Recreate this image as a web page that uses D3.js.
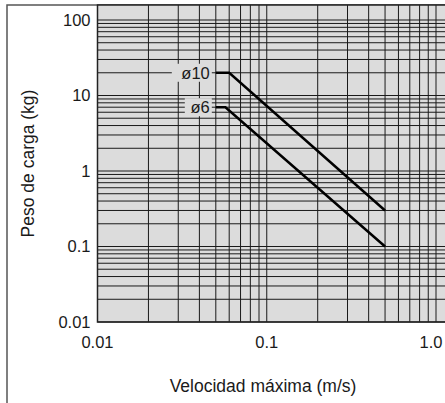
<!DOCTYPE html>
<html lang="es">
<head>
    <meta charset="UTF-8">
    <script src="https://d3js.org/d3.v7.min.js"></script>
    <title>Peso de carga vs velocidad</title>
    <style>
        body { margin: 0; background: #fff; }
        text { font-family: "Liberation Sans", Arial, sans-serif; fill: #1a1a1a; }
    </style>
</head>
<body>
    <div id="chart"></div>
    <script>
        // valores
        var xTicks = [0.01, 0.1, 1];
        var xTickLabels = ["0.01", "0.1", "1.0"];
        var yTicks = [0.01, 0.1, 1, 10, 100];
        var yTickLabels = ["0.01", "0.1", "1", "10", "100"];

        var seriesNames = ["ø10", "ø6"];
        var speed10 = [0.05, 0.06, 0.5];
        var load10 = [20, 20, 0.3];
        var speed6 = [0.05, 0.057, 0.5];
        var load6 = [7, 7, 0.1];

        var width = 445;
        var height = 403;
        var plotLeft = 97.5, plotRight = 436, plotTop = 5, plotBottom = 322;
        var bg = "#dcdcdc";

        var svg = d3.select('#chart')
                    .append('svg')
                    .attr('width', width)
                    .attr('height', height);

        var x = d3.scaleLog().domain([0.01, 1]).range([plotLeft, plotRight]);
        var y = d3.scaleLog().domain([0.01, 100]).range([plotBottom, 20]);

        // outer frame
        svg.append("path")
           .attr("d", `M7,${height} V5 H${width}`)
           .attr("fill", "none")
           .attr("stroke", "#555")
           .attr("stroke-width", 1.5);

        svg.append("rect")
           .attr("x", plotLeft)
           .attr("y", plotTop)
           .attr("width", width - plotLeft)
           .attr("height", plotBottom - plotTop)
           .attr("fill", bg);

        var grid = svg.append("g")
                      .attr("stroke", "#1a1a1a")
                      .attr("stroke-width", 1);

        grid.selectAll(".vx")
            .data(x.ticks())
            .enter()
            .append("line")
            .attr("x1", d => x(d)).attr("x2", d => x(d))
            .attr("y1", plotTop).attr("y2", plotBottom);

        grid.selectAll(".hy")
            .data(y.ticks())
            .enter()
            .append("line")
            .attr("x1", plotLeft).attr("x2", width)
            .attr("y1", d => y(d)).attr("y2", d => y(d));

        // plot border
        svg.append("path")
           .attr("d", `M${width},${plotTop} H${plotLeft} V${plotBottom} H${width}`)
           .attr("fill", "none")
           .attr("stroke", "#222")
           .attr("stroke-width", 1.5);

        // axes labels
        svg.append("g").selectAll("text")
           .data(yTicks)
           .enter()
           .append("text")
           .attr("x", plotLeft - 7)
           .attr("y", d => y(d))
           .attr("dy", "0.36em")
           .attr("text-anchor", "end")
           .attr("font-size", 16.5)
           .text((d, i) => yTickLabels[i]);

        svg.append("g").selectAll("text")
           .data(xTicks)
           .enter()
           .append("text")
           .attr("x", d => x(d) - (d === 1 ? 5 : 0))
           .attr("y", plotBottom + 26)
           .attr("text-anchor", "middle")
           .attr("font-size", 16.5)
           .text((d, i) => xTickLabels[i]);

        svg.append("text")
           .attr("x", 263)
           .attr("y", 392)
           .attr("text-anchor", "middle")
           .attr("font-size", 17.5)
           .text("Velocidad máxima (m/s)");

        svg.append("text")
           .attr("transform", `translate(33.5, ${(plotTop + plotBottom) / 2}) rotate(-90)`)
           .attr("text-anchor", "middle")
           .attr("font-size", 17.5)
           .text("Peso de carga (kg)");

        // curves
        var line = d3.line().x(d => x(d[0])).y(d => y(d[1]));
        var curves = [d3.zip(speed10, load10), d3.zip(speed6, load6)];

        curves.forEach((pts, i) => {
            var lx = x(pts[0][0]) - 4;
            var ly = y(pts[0][1]);
            var lbl = svg.append("g");
            lbl.append("rect")
               .attr("x", lx - (i === 0 ? 40 : 27))
               .attr("y", ly - 9)
               .attr("width", i === 0 ? 40 : 27)
               .attr("height", 18)
               .attr("fill", bg);
            lbl.append("text")
               .attr("x", lx - 2)
               .attr("y", ly)
               .attr("dy", "0.36em")
               .attr("text-anchor", "end")
               .attr("font-size", 16.5)
               .text(seriesNames[i]);

            svg.append("path")
               .datum(pts)
               .attr("d", line)
               .attr("fill", "none")
               .attr("stroke", "#000")
               .attr("stroke-width", 2.5);
        });
    </script>
</body>
</html>
